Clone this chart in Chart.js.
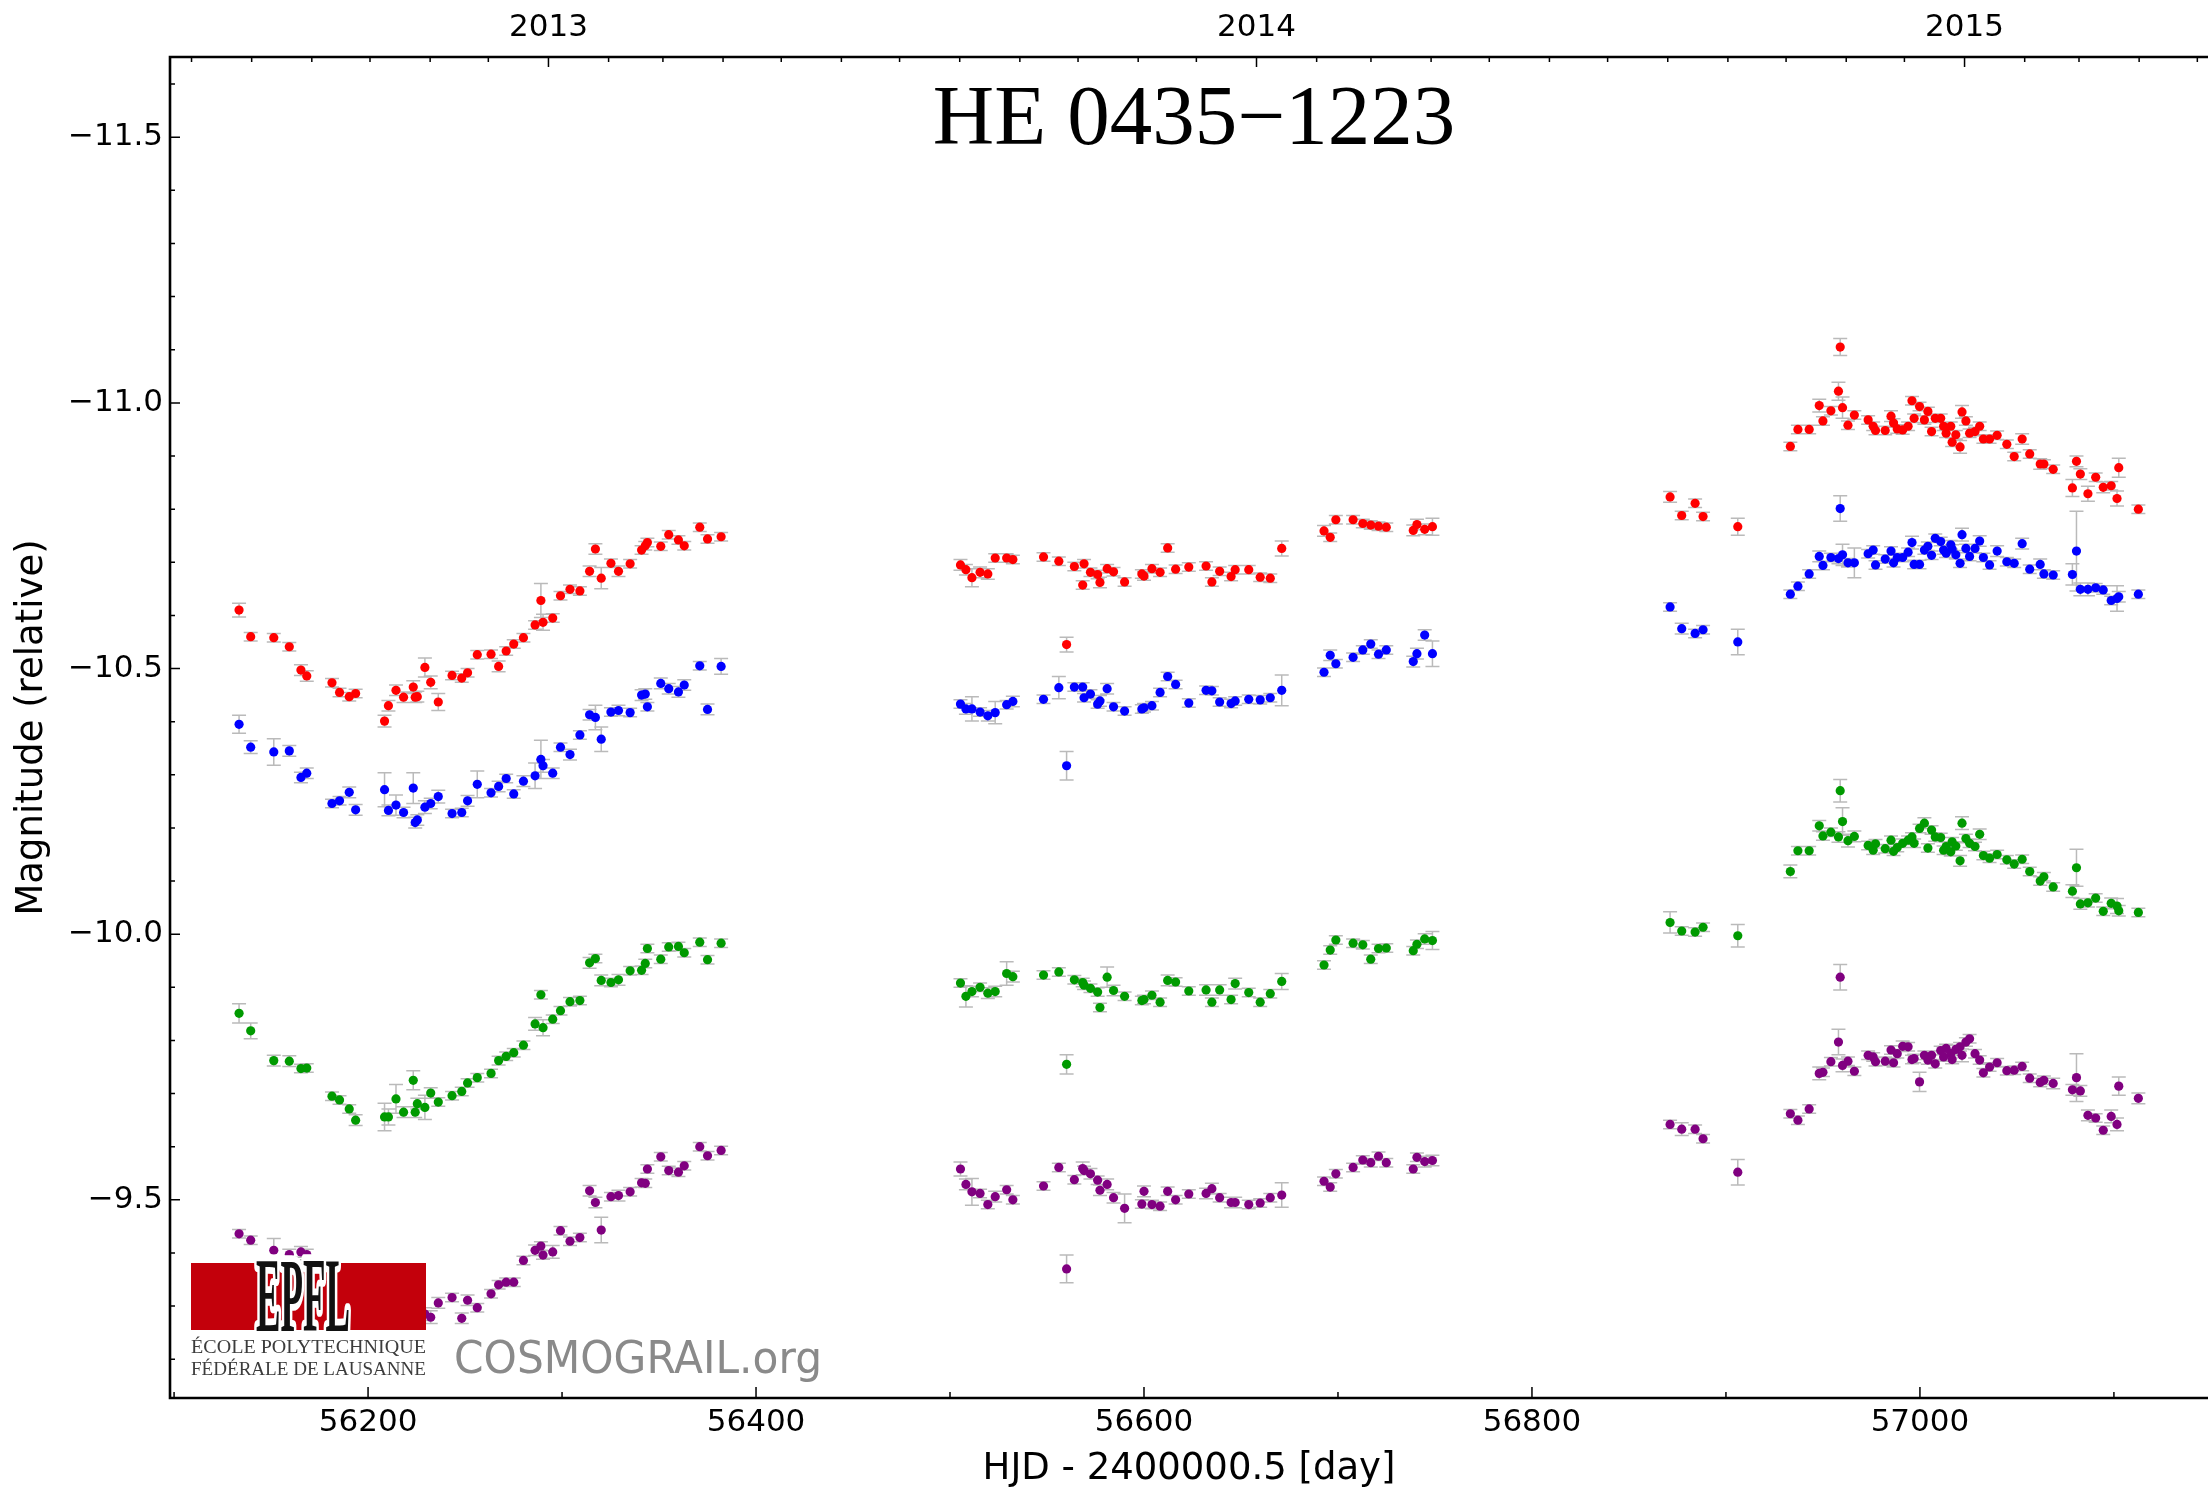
<!DOCTYPE html>
<html>
<head>
<meta charset="utf-8">
<script src="https://cdn.jsdelivr.net/npm/chart.js@4.4.1/dist/chart.umd.min.js"></script>
<style>
  html, body { margin: 0; padding: 0; background: #fff; overflow: hidden; }
  #wrap { width: 2208px; height: 1494px; overflow: hidden; }
  #lcChart { display: block; }
</style>
</head>
<body>
<div id="wrap"><canvas id="lcChart" width="2208" height="1494"></canvas></div>
<script>
/* eslint-disable no-undef */

// epochs, HJD - 2400000.5 (three seasons)
const hjd = [
  56133.5, 56139.5, 56151.4, 56159.4, 56165.4, 56168.4, 56181.4, 56185.3, 56190.3, 56193.6,
  56208.5, 56210.5, 56214.4, 56218.3, 56223.3, 56224.3, 56225.4, 56229.3, 56232.3, 56236.2,
  56243.3, 56248.3, 56251.3, 56256.3, 56263.4, 56267.3, 56271.2, 56275.1, 56280.1, 56286.1,
  56289.1, 56290.2, 56295.2, 56299.2, 56304.1, 56309.2, 56314.2, 56317.2, 56320.2, 56325.2,
  56329.1, 56335.1, 56341.0, 56342.9, 56344.0, 56350.9, 56355.0, 56360.0, 56363.0, 56371.0,
  56375.0, 56382.0,
  56505.4, 56508.2, 56511.3, 56515.5, 56519.5, 56523.3, 56529.2, 56532.4, 56548.2, 56556.1,
  56560.1, 56564.1, 56568.4, 56569.1, 56572.4, 56576.1, 56577.3, 56581.0, 56584.3, 56590.0,
  56598.9, 56600.0, 56604.1, 56608.3, 56612.2, 56616.3, 56623.1, 56632.0, 56635.0, 56639.0,
  56644.9, 56647.0, 56654.0, 56659.9, 56665.1, 56671.0, 56692.8, 56696.0, 56698.9, 56707.8,
  56712.8, 56716.9, 56720.9, 56724.9, 56738.8, 56740.7, 56744.7, 56748.7,
  56871.2, 56877.2, 56884.1, 56888.2, 56906.1,
  56933.2, 56937.1, 56942.9, 56948.1, 56950.0, 56954.1, 56958.0, 56958.9, 56960.1, 56962.9,
  56966.2, 56973.3, 56975.9, 56977.1, 56982.1, 56985.1, 56986.4, 56988.3, 56991.1, 56993.9,
  56995.9, 56997.0, 56999.8, 57002.3, 57004.1, 57006.0, 57007.9, 57010.7, 57012.2, 57013.5,
  57015.9, 57016.6, 57018.5, 57020.7, 57021.7, 57023.7, 57025.6, 57028.4, 57030.8, 57032.7,
  57035.9, 57039.8, 57044.8, 57048.6, 57052.7, 57056.6, 57062.0, 57063.9, 57068.7, 57078.6,
  57080.7, 57082.7, 57086.6, 57090.6, 57094.5, 57098.6, 57101.6, 57102.5, 57112.6
]

// red curve
const magA = [
  -10.610, -10.560, -10.558, -10.541, -10.497, -10.486, -10.473, -10.455, -10.447, -10.453,
  -10.401, -10.430, -10.459, -10.446, -10.465, -10.446, -10.447, -10.502, -10.474, -10.437,
  -10.487, -10.482, -10.492, -10.526, -10.527, -10.504, -10.533, -10.546, -10.558, -10.582,
  -10.628, -10.587, -10.595, -10.637, -10.649, -10.646, -10.683, -10.725, -10.670, -10.698,
  -10.683, -10.697, -10.723, -10.731, -10.737, -10.730, -10.752, -10.742, -10.731, -10.766,
  -10.744, -10.748,
  -10.695, -10.686, -10.671, -10.681, -10.678, -10.708, -10.708, -10.705, -10.710, -10.702,
  -10.545, -10.692, -10.657, -10.697, -10.681, -10.677, -10.662, -10.688, -10.682, -10.663,
  -10.678, -10.674, -10.688, -10.681, -10.727, -10.687, -10.691, -10.693, -10.663, -10.683,
  -10.673, -10.686, -10.686, -10.672, -10.670, -10.726, -10.759, -10.747, -10.780, -10.780,
  -10.773, -10.770, -10.768, -10.766, -10.760, -10.771, -10.762, -10.767,
  -10.823, -10.788, -10.811, -10.786, -10.767,
  -10.918, -10.950, -10.950, -10.995, -10.966, -10.985, -11.022, -11.105, -10.991, -10.958,
  -10.977, -10.968, -10.956, -10.948, -10.948, -10.975, -10.962, -10.951, -10.949, -10.956,
  -11.004, -10.971, -10.993, -10.968, -10.984, -10.946, -10.971, -10.971, -10.956, -10.943,
  -10.956, -10.926, -10.940, -10.917, -10.983, -10.966, -10.943, -10.946, -10.956, -10.932,
  -10.932, -10.939, -10.922, -10.899, -10.932, -10.904, -10.885, -10.885, -10.875, -10.840,
  -10.890, -10.866, -10.829, -10.860, -10.841, -10.844, -10.820, -10.878, -10.800
]

// blue curve
const magB = [
  -10.395, -10.352, -10.343, -10.345, -10.295, -10.303, -10.246, -10.251, -10.267, -10.234,
  -10.272, -10.233, -10.243, -10.229, -10.275, -10.210, -10.215, -10.239, -10.246, -10.259,
  -10.227, -10.229, -10.251, -10.282, -10.266, -10.278, -10.293, -10.264, -10.288, -10.298,
  -10.329, -10.317, -10.303, -10.352, -10.338, -10.375, -10.413, -10.408, -10.367, -10.418,
  -10.421, -10.417, -10.450, -10.452, -10.428, -10.472, -10.462, -10.456, -10.469, -10.505,
  -10.423, -10.504,
  -10.433, -10.424, -10.424, -10.418, -10.411, -10.417, -10.432, -10.438, -10.442, -10.464,
  -10.317, -10.465, -10.465, -10.445, -10.452, -10.433, -10.439, -10.462, -10.428, -10.420,
  -10.424, -10.426, -10.430, -10.455, -10.485, -10.470, -10.435, -10.459, -10.458, -10.437,
  -10.434, -10.439, -10.442, -10.441, -10.445, -10.459, -10.493, -10.525, -10.509, -10.521,
  -10.535, -10.546, -10.527, -10.535, -10.513, -10.528, -10.563, -10.528,
  -10.616, -10.575, -10.566, -10.573, -10.550,
  -10.640, -10.655, -10.678, -10.711, -10.694, -10.709, -10.707, -10.801, -10.714, -10.699,
  -10.699, -10.716, -10.723, -10.695, -10.706, -10.721, -10.699, -10.709, -10.709, -10.719,
  -10.737, -10.696, -10.696, -10.723, -10.730, -10.713, -10.745, -10.739, -10.723, -10.717,
  -10.733, -10.725, -10.714, -10.698, -10.752, -10.726, -10.711, -10.726, -10.740, -10.709,
  -10.695, -10.721, -10.701, -10.698, -10.735, -10.687, -10.696, -10.678, -10.676, -10.677,
  -10.721, -10.649, -10.649, -10.652, -10.648, -10.628, -10.632, -10.635, -10.640
]

// green curve
const magC = [
  -9.851, -9.818, -9.762, -9.761, -9.747, -9.748, -9.695, -9.688, -9.671, -9.650,
  -9.656, -9.656, -9.690, -9.665, -9.725, -9.665, -9.681, -9.674, -9.701, -9.684,
  -9.696, -9.704, -9.720, -9.730, -9.738, -9.762, -9.770, -9.777, -9.791, -9.831,
  -9.886, -9.824, -9.840, -9.856, -9.873, -9.875, -9.946, -9.954, -9.913, -9.909,
  -9.914, -9.931, -9.932, -9.945, -9.973, -9.953, -9.976, -9.977, -9.965, -9.985,
  -9.952, -9.983,
  -9.908, -9.883, -9.892, -9.900, -9.889, -9.892, -9.926, -9.920, -9.923, -9.929,
  -9.755, -9.914, -9.909, -9.904, -9.898, -9.891, -9.862, -9.919, -9.894, -9.883,
  -9.875, -9.877, -9.885, -9.872, -9.913, -9.910, -9.893, -9.895, -9.872, -9.895,
  -9.877, -9.907, -9.890, -9.872, -9.888, -9.911, -9.942, -9.970, -9.989, -9.983,
  -9.980, -9.953, -9.973, -9.974, -9.969, -9.981, -9.991, -9.988,
  -10.022, -10.006, -10.004, -10.013, -9.997,
  -10.118, -10.157, -10.157, -10.204, -10.185, -10.192, -10.183, -10.270, -10.212, -10.176,
  -10.184, -10.167, -10.158, -10.170, -10.161, -10.177, -10.156, -10.163, -10.171, -10.177,
  -10.183, -10.171, -10.199, -10.209, -10.162, -10.196, -10.183, -10.182, -10.158, -10.165,
  -10.155, -10.174, -10.166, -10.138, -10.209, -10.180, -10.171, -10.165, -10.188, -10.148,
  -10.143, -10.150, -10.140, -10.132, -10.141, -10.118, -10.100, -10.108, -10.089, -10.081,
  -10.125, -10.057, -10.059, -10.068, -10.043, -10.058, -10.053, -10.044, -10.041
]

// purple curve (null = hidden behind the logo)
const magD = [
  -9.436, -9.424, -9.405, -9.397, -9.402, -9.397, null, null, null, null,
  null, null, null, null, null, null, null, -9.285, -9.279, -9.306,
  -9.316, -9.277, -9.311, -9.297, -9.323, -9.340, -9.345, -9.345, -9.386, -9.405,
  -9.413, -9.396, -9.402, -9.442, -9.422, -9.429, -9.517, -9.495, -9.443, -9.506,
  -9.508, -9.515, -9.532, -9.531, -9.558, -9.581, -9.555, -9.552, -9.564, -9.600,
  -9.583, -9.593,
  -9.558, -9.529, -9.515, -9.512, -9.491, -9.506, -9.519, -9.500, -9.526, -9.561,
  -9.370, -9.538, -9.559, -9.555, -9.549, -9.537, -9.518, -9.529, -9.504, -9.484,
  -9.492, -9.516, -9.491, -9.488, -9.516, -9.500, -9.511, -9.512, -9.521, -9.504,
  -9.495, -9.495, -9.491, -9.494, -9.504, -9.509, -9.535, -9.524, -9.549, -9.561,
  -9.575, -9.570, -9.582, -9.570, -9.558, -9.580, -9.572, -9.574,
  -9.642, -9.633, -9.633, -9.615, -9.552,
  -9.662, -9.650, -9.671, -9.738, -9.740, -9.760, -9.797, -9.919, -9.753, -9.761,
  -9.742, -9.772, -9.769, -9.760, -9.761, -9.782, -9.758, -9.775, -9.789, -9.788,
  -9.764, -9.766, -9.722, -9.772, -9.763, -9.772, -9.756, -9.781, -9.769, -9.785,
  -9.775, -9.764, -9.783, -9.788, -9.772, -9.797, -9.803, -9.775, -9.763, -9.739,
  -9.750, -9.758, -9.743, -9.744, -9.751, -9.729, -9.721, -9.725, -9.719, -9.707,
  -9.730, -9.705, -9.659, -9.654, -9.631, -9.657, -9.642, -9.714, -9.691
]

// 1-sigma errors
const errA = [
  0.013, 0.008, 0.008, 0.008, 0.010, 0.010, 0.008, 0.008, 0.008, 0.008,
  0.011, 0.010, 0.010, 0.010, 0.012, 0.010, 0.010, 0.018, 0.012, 0.016,
  0.008, 0.008, 0.008, 0.008, 0.008, 0.010, 0.008, 0.008, 0.008, 0.008,
  0.032, 0.015, 0.008, 0.008, 0.008, 0.008, 0.010, 0.010, 0.020, 0.008,
  0.010, 0.008, 0.008, 0.008, 0.008, 0.008, 0.008, 0.008, 0.008, 0.008,
  0.008, 0.008,
  0.010, 0.010, 0.017, 0.010, 0.010, 0.008, 0.008, 0.008, 0.008, 0.008,
  0.014, 0.008, 0.008, 0.008, 0.008, 0.008, 0.010, 0.008, 0.008, 0.008,
  0.008, 0.008, 0.008, 0.008, 0.008, 0.008, 0.008, 0.008, 0.008, 0.008,
  0.008, 0.008, 0.008, 0.008, 0.008, 0.014, 0.010, 0.008, 0.008, 0.008,
  0.008, 0.008, 0.008, 0.008, 0.010, 0.010, 0.010, 0.016,
  0.010, 0.008, 0.008, 0.008, 0.016,
  0.008, 0.008, 0.008, 0.012, 0.008, 0.008, 0.017, 0.016, 0.020, 0.008,
  0.008, 0.008, 0.008, 0.008, 0.008, 0.010, 0.008, 0.008, 0.008, 0.008,
  0.008, 0.008, 0.008, 0.008, 0.008, 0.008, 0.008, 0.008, 0.008, 0.008,
  0.008, 0.008, 0.008, 0.012, 0.012, 0.008, 0.008, 0.008, 0.008, 0.008,
  0.008, 0.008, 0.008, 0.008, 0.010, 0.008, 0.010, 0.008, 0.008, 0.016,
  0.010, 0.010, 0.014, 0.008, 0.010, 0.008, 0.014, 0.018, 0.008
]

const errB = [
  0.017, 0.012, 0.025, 0.010, 0.010, 0.010, 0.008, 0.008, 0.010, 0.010,
  0.032, 0.010, 0.019, 0.010, 0.029, 0.010, 0.010, 0.012, 0.010, 0.012,
  0.008, 0.008, 0.010, 0.025, 0.008, 0.010, 0.008, 0.008, 0.010, 0.024,
  0.036, 0.012, 0.010, 0.008, 0.010, 0.008, 0.010, 0.023, 0.023, 0.008,
  0.010, 0.008, 0.010, 0.010, 0.008, 0.010, 0.010, 0.010, 0.010, 0.008,
  0.010, 0.015,
  0.008, 0.010, 0.023, 0.008, 0.010, 0.021, 0.008, 0.010, 0.008, 0.021,
  0.027, 0.008, 0.008, 0.008, 0.008, 0.008, 0.010, 0.010, 0.008, 0.008,
  0.008, 0.008, 0.008, 0.008, 0.008, 0.008, 0.008, 0.008, 0.008, 0.008,
  0.008, 0.008, 0.008, 0.008, 0.008, 0.029, 0.008, 0.010, 0.008, 0.008,
  0.008, 0.008, 0.008, 0.008, 0.010, 0.010, 0.010, 0.024,
  0.008, 0.010, 0.008, 0.008, 0.024,
  0.008, 0.008, 0.008, 0.010, 0.008, 0.008, 0.010, 0.024, 0.020, 0.008,
  0.028, 0.008, 0.008, 0.008, 0.008, 0.008, 0.008, 0.008, 0.008, 0.008,
  0.012, 0.008, 0.008, 0.008, 0.008, 0.008, 0.008, 0.008, 0.008, 0.008,
  0.008, 0.008, 0.008, 0.008, 0.012, 0.008, 0.008, 0.008, 0.010, 0.008,
  0.008, 0.010, 0.008, 0.008, 0.010, 0.008, 0.010, 0.008, 0.008, 0.020,
  0.075, 0.012, 0.012, 0.008, 0.008, 0.008, 0.024, 0.010, 0.008
]

const errC = [
  0.018, 0.015, 0.010, 0.010, 0.008, 0.008, 0.008, 0.008, 0.008, 0.010,
  0.026, 0.015, 0.027, 0.010, 0.018, 0.010, 0.010, 0.023, 0.010, 0.008,
  0.008, 0.008, 0.008, 0.008, 0.008, 0.008, 0.008, 0.008, 0.008, 0.012,
  0.008, 0.015, 0.008, 0.008, 0.008, 0.008, 0.010, 0.008, 0.010, 0.008,
  0.010, 0.008, 0.008, 0.008, 0.008, 0.008, 0.008, 0.008, 0.008, 0.008,
  0.008, 0.008,
  0.008, 0.020, 0.010, 0.008, 0.010, 0.010, 0.022, 0.010, 0.008, 0.008,
  0.018, 0.008, 0.008, 0.008, 0.008, 0.008, 0.008, 0.019, 0.010, 0.008,
  0.008, 0.008, 0.008, 0.008, 0.010, 0.008, 0.008, 0.010, 0.008, 0.010,
  0.008, 0.010, 0.008, 0.008, 0.008, 0.015, 0.008, 0.008, 0.008, 0.008,
  0.008, 0.008, 0.008, 0.008, 0.008, 0.008, 0.010, 0.017,
  0.020, 0.008, 0.008, 0.008, 0.021,
  0.012, 0.008, 0.008, 0.010, 0.008, 0.008, 0.010, 0.021, 0.026, 0.012,
  0.010, 0.008, 0.008, 0.008, 0.008, 0.008, 0.008, 0.008, 0.008, 0.008,
  0.008, 0.008, 0.008, 0.010, 0.008, 0.008, 0.008, 0.008, 0.008, 0.008,
  0.008, 0.008, 0.008, 0.010, 0.012, 0.008, 0.008, 0.008, 0.010, 0.008,
  0.008, 0.008, 0.008, 0.008, 0.008, 0.008, 0.008, 0.008, 0.008, 0.012,
  0.035, 0.010, 0.008, 0.008, 0.008, 0.010, 0.014, 0.010, 0.008
]

const errD = [
  0.008, 0.008, 0.022, 0.010, 0.010, 0.010, 0, 0, 0, 0,
  0, 0, 0, 0, 0, 0, 0, 0.012, 0.012, 0.010,
  0.008, 0.010, 0.010, 0.008, 0.008, 0.008, 0.008, 0.008, 0.008, 0.010,
  0.008, 0.008, 0.012, 0.008, 0.008, 0.008, 0.010, 0.010, 0.024, 0.008,
  0.010, 0.008, 0.008, 0.008, 0.008, 0.008, 0.008, 0.008, 0.008, 0.008,
  0.008, 0.008,
  0.013, 0.010, 0.025, 0.008, 0.008, 0.010, 0.008, 0.008, 0.008, 0.008,
  0.026, 0.008, 0.012, 0.008, 0.010, 0.008, 0.010, 0.010, 0.010, 0.027,
  0.008, 0.010, 0.008, 0.008, 0.008, 0.008, 0.008, 0.010, 0.010, 0.008,
  0.010, 0.010, 0.008, 0.008, 0.008, 0.023, 0.008, 0.008, 0.008, 0.008,
  0.008, 0.008, 0.008, 0.008, 0.008, 0.008, 0.010, 0.010,
  0.008, 0.012, 0.008, 0.008, 0.024,
  0.008, 0.008, 0.008, 0.012, 0.008, 0.008, 0.024, 0.024, 0.012, 0.008,
  0.008, 0.008, 0.008, 0.008, 0.008, 0.008, 0.008, 0.008, 0.010, 0.008,
  0.008, 0.008, 0.018, 0.008, 0.008, 0.008, 0.008, 0.008, 0.008, 0.008,
  0.008, 0.008, 0.008, 0.008, 0.012, 0.008, 0.008, 0.008, 0.008, 0.008,
  0.008, 0.008, 0.008, 0.008, 0.008, 0.008, 0.008, 0.008, 0.010, 0.010,
  0.045, 0.010, 0.010, 0.008, 0.008, 0.012, 0.012, 0.017, 0.010
]

// axis ticks and labels
const xTicks = [56100, 56200, 56300, 56400, 56500, 56600, 56700, 56800, 56900, 57000, 57100]
const xLabelTicks = [56200, 56400, 56600, 56800, 57000]
const yearTicks = [56293, 56658, 57023]
const yearLabels = ['2013', '2014', '2015']
const yLabelTicks = [-11.5, -11.0, -10.5, -10.0, -9.5]

const X_MIN = 56097.9
const X_MAX = 57148.5
const Y_MIN = -11.651
const Y_MAX = -9.127

Chart.defaults.font.family = '"DejaVu Sans", sans-serif'
Chart.defaults.color = '#000'

function monthTicks() {
  const out = []
  for (let y = 2012; y <= 2015; y++) {
    for (let m = 0; m < 12; m++) {
      const mjd = Date.UTC(y, m, 1) / 86400000 + 40587
      if (mjd > X_MIN && mjd < X_MAX) out.push({ value: mjd, major: m === 0 })
    }
  }
  return out
}

function yMinorTicks() {
  const out = []
  for (let k = -116; k <= -92; k++) out.push({ value: k / 10 })
  return out
}

const isYLabel = (v) => yLabelTicks.some((t) => Math.abs(t - v) < 1e-6)

// keep the plot area flush with the picture edges
function fitBox(s, size) {
  if (s.isHorizontal()) s.height = size
  else s.width = size
  s.paddingLeft = 0
  s.paddingRight = 0
  s.paddingTop = 0
  s.paddingBottom = 0
}

const series = [
  { label: 'A', color: '#ff0000', mag: magA, err: errA },
  { label: 'B', color: '#0000ff', mag: magB, err: errB },
  { label: 'C', color: '#009a00', mag: magC, err: errC },
  { label: 'D', color: '#800080', mag: magD, err: errD }
]

const datasets = series.map((s) => ({
  label: s.label,
  data: hjd
    .map((t, i) => ({ x: t, y: s.mag[i], e: s.err[i] }))
    .filter((p) => p.y !== null),
  backgroundColor: s.color,
  borderWidth: 0,
  pointRadius: 4.6,
  pointHoverRadius: 4.6
}))

const errorBars = {
  id: 'errorBars',
  beforeDatasetsDraw(chart) {
    const { ctx, chartArea: a } = chart
    const { x, y } = chart.scales
    ctx.save()
    ctx.beginPath()
    ctx.rect(a.left, a.top, a.width, a.height)
    ctx.clip()
    ctx.strokeStyle = '#bababa'
    ctx.lineWidth = 1.5
    ctx.beginPath()
    chart.data.datasets.forEach((ds) => {
      ds.data.forEach((p) => {
        if (!p.e) return
        const px = x.getPixelForValue(p.x)
        const y1 = y.getPixelForValue(p.y - p.e)
        const y2 = y.getPixelForValue(p.y + p.e)
        ctx.moveTo(px, y1)
        ctx.lineTo(px, y2)
        ctx.moveTo(px - 7, y1)
        ctx.lineTo(px + 7, y1)
        ctx.moveTo(px - 7, y2)
        ctx.lineTo(px + 7, y2)
      })
    })
    ctx.stroke()
    ctx.restore()
  }
}

const frame = {
  id: 'frame',
  afterDatasetsDraw(chart) {
    const { ctx, chartArea: a, scales } = chart
    ctx.save()
    ctx.strokeStyle = '#000'
    ctx.lineWidth = 1.5
    ctx.beginPath()
    // inward tick marks
    scales.x.ticks.forEach((t) => {
      const px = scales.x.getPixelForValue(t.value)
      const len = xLabelTicks.includes(t.value) ? 11 : 6
      ctx.moveTo(px, a.bottom)
      ctx.lineTo(px, a.bottom - len)
    })
    scales.x2.ticks.forEach((t) => {
      const px = scales.x2.getPixelForValue(t.value)
      const len = t.major ? 10 : 5
      ctx.moveTo(px, a.top)
      ctx.lineTo(px, a.top + len)
    })
    scales.y.ticks.forEach((t) => {
      const py = scales.y.getPixelForValue(t.value)
      const len = isYLabel(t.value) ? 10 : 5
      ctx.moveTo(a.left, py)
      ctx.lineTo(a.left + len, py)
    })
    ctx.stroke()
    // spines (the right one falls outside the picture)
    ctx.lineWidth = 2.6
    ctx.beginPath()
    ctx.moveTo(chart.width, a.top)
    ctx.lineTo(a.left, a.top)
    ctx.lineTo(a.left, a.bottom)
    ctx.lineTo(chart.width, a.bottom)
    ctx.stroke()
    ctx.restore()
  }
}

const decorations = {
  id: 'decorations',
  afterDraw(chart) {
    const { ctx, chartArea: a } = chart
    ctx.save()
    // title inside the axes
    ctx.fillStyle = '#000'
    ctx.font = '85px "Liberation Serif", serif'
    ctx.textAlign = 'center'
    ctx.textBaseline = 'alphabetic'
    ctx.fillText('HE 0435\u22121223', (a.left + a.right) / 2 + 5, a.top + 87)

    // EPFL logo
    const lx = a.left + 21
    const ly = a.bottom - 135
    const lw = 235
    const lh = 67
    ctx.fillStyle = '#fff'
    ctx.fillRect(lx, ly + lh, lw, 50)
    ctx.fillStyle = '#c3000b'
    ctx.fillRect(lx, ly, lw, lh)

    ctx.save()
    ctx.translate(lx + 112, ly + lh + 1)
    ctx.scale(0.4, 1.14)
    ctx.font = 'bold 92px "Liberation Serif", serif'
    ctx.textAlign = 'center'
    ctx.lineJoin = 'round'
    ctx.strokeStyle = '#fff'
    ctx.lineWidth = 12
    ctx.strokeText('EPFL', 0, 0)
    ctx.fillStyle = '#111'
    ctx.fillText('EPFL', 0, 0)
    ctx.restore()

    ctx.fillStyle = '#3c3c3c'
    ctx.font = '19px "Liberation Serif", serif'
    ctx.textAlign = 'left'
    const lines = ['\u00c9COLE POLYTECHNIQUE', 'F\u00c9D\u00c9RALE DE LAUSANNE']
    lines.forEach((txt, i) => {
      const w = ctx.measureText(txt).width
      ctx.save()
      ctx.translate(lx, ly + lh + 23 + i * 22)
      ctx.scale(lw / w, 1)
      ctx.fillText(txt, 0, 0)
      ctx.restore()
    })

    ctx.fillStyle = '#8a8a8a'
    ctx.font = '44px "DejaVu Sans", sans-serif'
    const site = 'COSMOGRAIL.org'
    const sw = ctx.measureText(site).width
    ctx.save()
    ctx.translate(lx + 263, ly + lh + 43)
    ctx.scale(368 / sw, 1)
    ctx.fillText(site, 0, 0)
    ctx.restore()

    ctx.restore()
  }
}

const ctx = document.getElementById('lcChart').getContext('2d')

const lcChart = new Chart(ctx, {
  type: 'scatter',
  data: { datasets },
  options: {
    responsive: false,
    animation: false,
    events: [],
    devicePixelRatio: 1,
    layout: { padding: 0, autoPadding: false },
    plugins: {
      legend: { display: false },
      tooltip: { enabled: false },
      title: { display: false }
    },
    scales: {
      x: {
        type: 'linear',
        position: 'bottom',
        min: X_MIN,
        max: X_MAX,
        afterBuildTicks: (s) => { s.ticks = xTicks.map((v) => ({ value: v })) },
        afterFit: (s) => fitBox(s, 96),
        grid: { display: false, drawTicks: false },
        border: { display: false },
        ticks: {
          padding: 6,
          autoSkip: false,
          maxRotation: 0,
          font: { size: 31 },
          callback: (v) => (xLabelTicks.includes(v) ? String(v) : '')
        },
        title: {
          display: true,
          text: 'HJD - 2400000.5 [day]',
          font: { size: 37 },
          padding: { top: 0, bottom: 2 }
        }
      },
      x2: {
        type: 'linear',
        position: 'top',
        min: X_MIN,
        max: X_MAX,
        afterBuildTicks: (s) => { s.ticks = monthTicks() },
        afterFit: (s) => fitBox(s, 57),
        grid: { display: false, drawTicks: false },
        border: { display: false },
        ticks: {
          padding: 10,
          autoSkip: false,
          maxRotation: 0,
          font: { size: 31 },
          major: { enabled: false },
          callback: (v) => {
            const i = yearTicks.indexOf(v)
            return i >= 0 ? yearLabels[i] : ''
          }
        }
      },
      y: {
        type: 'linear',
        reverse: true,
        min: Y_MIN,
        max: Y_MAX,
        afterBuildTicks: (s) => { s.ticks = yMinorTicks() },
        afterFit: (s) => fitBox(s, 170),
        grid: { display: false, drawTicks: false },
        border: { display: false },
        ticks: {
          padding: 7,
          autoSkip: false,
          font: { size: 31 },
          callback: (v) => (isYLabel(v) ? v.toFixed(1).replace('-', '\u2212') : '')
        },
        title: {
          display: true,
          text: 'Magnitude (relative)',
          font: { size: 37 },
          padding: { top: 10, bottom: 0 }
        }
      }
    }
  },
  plugins: [errorBars, frame, decorations]
})
</script>
</body>
</html>
